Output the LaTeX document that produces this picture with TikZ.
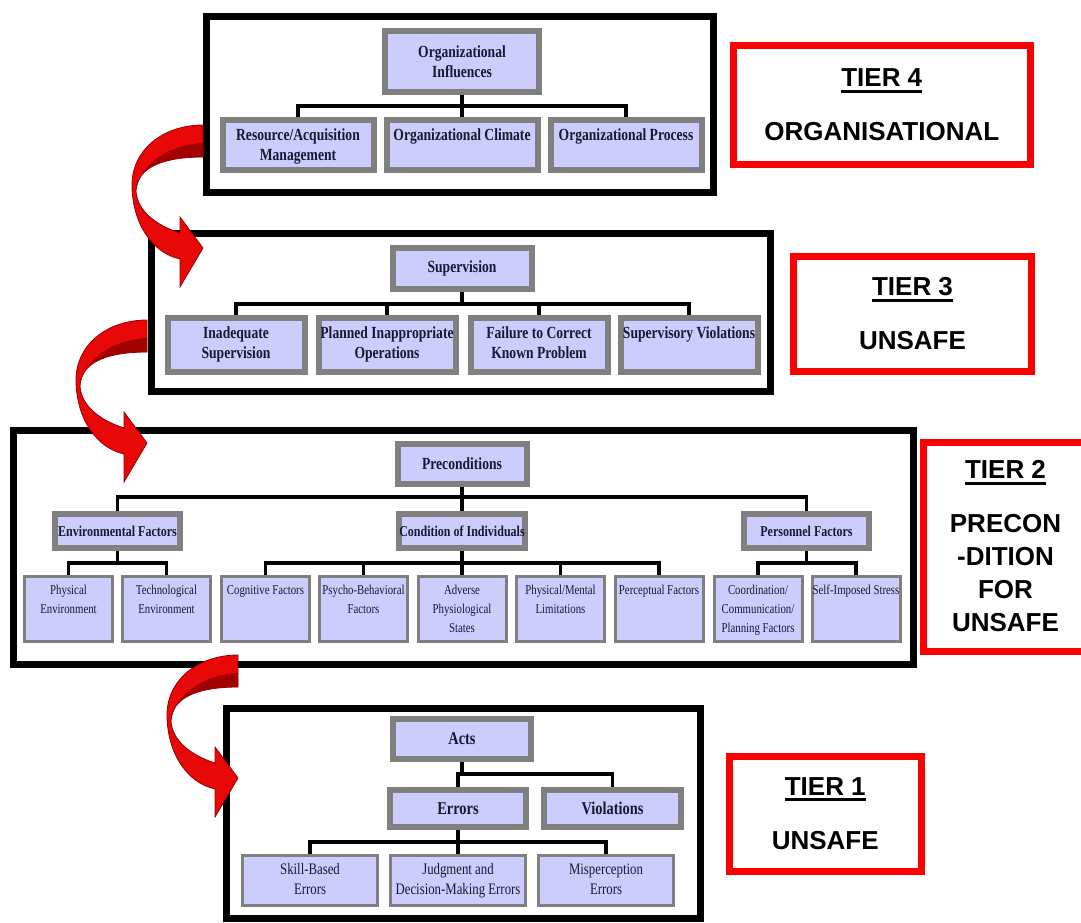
\documentclass[tikz,border=0pt]{standalone}
\usepackage{fontspec}
\setmainfont{Liberation Serif}
\newfontfamily\boxfont[FakeStretch=0.8]{Liberation Serif}
\newfontfamily\tierfont{Liberation Sans}
\usetikzlibrary{positioning}
\definecolor{boxfill}{RGB}{204,204,255}
\definecolor{boxgray}{RGB}{128,128,128}
\definecolor{boxtext}{RGB}{25,25,50}
\definecolor{tierred}{RGB}{255,0,0}
\definecolor{bendred}{RGB}{232,8,8}
\definecolor{benddark}{RGB}{150,0,0}
\newcommand{\topbox}[4]{\parbox[c][#2][t]{#1}{\centering\rule{0pt}{#3}#4\par}}
\newcommand{\tierhead}[1]{\setbox0=\hbox{#1}\rlap{\rule[-5.7pt]{\wd0}{3pt}}\box0}

\begin{document}
\begin{tikzpicture}[
    x=1pt, y=-1pt, text=boxtext,
    frame/.style={draw=black, line width=7pt},
    tier/.style={draw=tierred, line width=7pt, inner sep=0pt, align=center, text=black, font=\tierfont\bfseries\fontsize{26}{33}\selectfont},
    head/.style={draw=boxgray, line width=6pt, fill=boxfill, inner sep=0pt, align=center},
    leaf/.style={draw=boxgray, line width=6pt, fill=boxfill, inner sep=0pt},
    thinleaf/.style={leaf, line width=3pt},
    bigbold/.style={font=\boxfont\bfseries\fontsize{17}{20}\selectfont},
    midbold/.style={font=\boxfont\bfseries\fontsize{15}{18}\selectfont},
    actbold/.style={font=\boxfont\bfseries\fontsize{18}{21}\selectfont},
    link/.style={line width=3.2pt, black},
    redbend/.pic={
        \fill[bendred, draw=benddark, line width=0.8pt] (0,0) .. controls (-40,0) and (-72,25) .. (-71,62)
            .. controls (-70,100) and (-50,128) .. (-23,134) -- (-23,162) -- (0,123) -- (-23,92) -- (-23,108)
            .. controls (-48,100) and (-66,85) .. (-67,66) .. controls (-66,40) and (-35,32) .. (0,32) -- cycle;
        \fill[benddark!85!bendred] (0,32) .. controls (-35,32) and (-66,40) .. (-67,66)
            .. controls (-64,42) and (-38,20) .. (0,18) -- cycle;
    }
]
\useasboundingbox (0,0) rectangle (1081,922);

\draw[frame] (206.5,16.5) rectangle (713.5,192.5);
\draw[frame] (151.5,233.5) rectangle (770,391.5);
\draw[frame] (13.5,430) rectangle (913.5,664);
\draw[frame] (226.5,708) rectangle (700,918.5);

% tier 4
\node[head, bigbold, minimum width=154pt, minimum height=61pt] (orginf) at (462,61.5) {Organizational\\Influences};
\node[leaf, bigbold] (resmgmt) at (298,145) {\topbox{151pt}{50pt}{20.5pt}{Resource/Acquisition\\Management}};
\node[leaf, bigbold] (orgclim) at (462,145) {\topbox{151pt}{50pt}{20.5pt}{Organizational Climate}};
\node[leaf, bigbold] (orgproc) at (626,145) {\topbox{151pt}{50pt}{20.5pt}{Organizational Process}};
\coordinate (bus4) at (462,106);
\draw[link] (orginf.south) -- (bus4);
\draw[link] (resmgmt.north) |- (orgproc.north |- bus4) -- (orgproc.north);
\draw[link] (orgclim.north |- bus4) -- (orgclim.north);

% tier 3
\node[head, bigbold, minimum width=139pt, minimum height=41pt] (superv) at (462,268.5) {Supervision};
\node[leaf, bigbold] (inadeq) at (236,345) {\topbox{137pt}{54pt}{20.5pt}{Inadequate\\Supervision}};
\node[leaf, bigbold] (planned) at (387,345) {\topbox{137pt}{54pt}{20.5pt}{Planned Inappropriate\\Operations}};
\node[leaf, bigbold] (failcorr) at (539,345) {\topbox{137pt}{54pt}{20.5pt}{Failure to Correct\\Known Problem}};
\node[leaf, bigbold] (supviol) at (689,345) {\topbox{137pt}{54pt}{20.5pt}{Supervisory Violations}};
\coordinate (bus3) at (462,304);
\draw[link] (superv.south) -- (superv.south |- bus3);
\draw[link] (inadeq.north) |- (supviol.north |- bus3) -- (supviol.north);
\foreach \b in {planned, failcorr} {
    \draw[link] (\b.north |- bus3) -- (\b.north);
}

% tier 2
\node[head, bigbold, minimum width=129pt, minimum height=40pt] (precond) at (462,464) {Preconditions};
\node[head, midbold, minimum width=125pt, minimum height=34pt] (envfac) at (117.5,531) {Environmental Factors};
\node[head, midbold, minimum width=125pt, minimum height=34pt] (condind) at (462,531) {Condition of Individuals};
\node[head, midbold, minimum width=125pt, minimum height=34pt] (persfac) at (806.5,531) {Personnel Factors};
\coordinate (bus2) at (462,497);
\draw[link] (precond.south) -- (precond.south |- bus2);
\draw[link] (envfac.north) |- (persfac.north |- bus2) -- (persfac.north);
\draw[link] (condind.north |- bus2) -- (condind.north);

\foreach \n/\x/\t in {physenv/68.5/{Physical\\Environment}, techenv/166.5/{Technological\\Environment},
    cogfac/265.5/{Cognitive Factors}, psybeh/363.5/{Psycho-Behavioral\\Factors},
    advphys/462/{Adverse\\Physiological\\States}, physment/560.5/{Physical/Mental\\Limitations},
    percfac/659/{Perceptual Factors}, coordcom/758/{Coordination/\\Communication/\\Planning Factors},
    selfstress/856/{Self-Imposed Stress}} {
    \node[thinleaf, font=\boxfont\fontsize{13.5}{19}\selectfont] (\n) at (\x,609) {\topbox{88pt}{65pt}{18pt}{\t}};
}
\coordinate (bus2b) at (462,563);
\draw[link] (envfac.south) -- (envfac.south |- bus2b);
\draw[link] (physenv.north) |- (techenv.north |- bus2b) -- (techenv.north);
\draw[link] (condind.south) -- (condind.south |- bus2b);
\draw[link] (cogfac.north) |- (percfac.north |- bus2b) -- (percfac.north);
\foreach \b in {psybeh, advphys, physment} {
    \draw[link] (\b.north |- bus2b) -- (\b.north);
}
\draw[link] (persfac.south) -- (persfac.south |- bus2b);
\draw[link] (coordcom.north) |- (selfstress.north |- bus2b) -- (selfstress.north);

% tier 1
\node[head, actbold, minimum width=138pt, minimum height=40pt] (acts) at (462,739) {Acts};
\node[head, actbold, minimum width=136pt, minimum height=37pt] (errors) at (458,808.5) {Errors};
\node[head, actbold, minimum width=137pt, minimum height=37pt] (violat) at (612.5,808.5) {Violations};
\coordinate (bus1) at (462,774);
\draw[link] (acts.south) -- (acts.south |- bus1);
\draw[link] (errors.north) |- (violat.north |- bus1) -- (violat.north);
\node[thinleaf, font=\boxfont\fontsize{16}{20}\selectfont] (skillerr) at (310,880.5) {\topbox{135pt}{50pt}{19pt}{Skill-Based\\Errors}};
\node[thinleaf, font=\boxfont\fontsize{16}{20}\selectfont] (judgerr) at (458,880.5) {\topbox{135pt}{50pt}{19pt}{Judgment and\\Decision-Making Errors}};
\node[thinleaf, font=\boxfont\fontsize{16}{20}\selectfont] (misperr) at (606,880.5) {\topbox{135pt}{50pt}{19pt}{Misperception\\Errors}};
\coordinate (bus1b) at (458,842);
\draw[link] (errors.south) -- (errors.south |- bus1b);
\draw[link] (skillerr.north) |- (misperr.north |- bus1b) -- (misperr.north);
\draw[link] (judgerr.north |- bus1b) -- (judgerr.north);

% tier labels
\node[tier, minimum width=296.5pt, minimum height=119pt] (tier4) at (881.75,105) {\tierhead{TIER 4}\\[21pt]ORGANISATIONAL};
\node[tier, minimum width=238pt, minimum height=115pt] (tier3) at (912.5,314) {\tierhead{TIER 3}\\[21pt]UNSAFE};
\node[tier, minimum width=165pt, minimum height=209pt] (tier2) at (1005.5,546.5) {\tierhead{TIER 2}\\[21pt]PRECON\\-DITION\\FOR\\UNSAFE};
\node[tier, minimum width=192.5pt, minimum height=115pt] (tier1) at (825.25,813.5) {\tierhead{TIER 1}\\[21pt]UNSAFE};

\pic at (203,125) {redbend};
\pic at (147,320) {redbend};
\pic at (238,655) {redbend};
\end{tikzpicture}
\end{document}
